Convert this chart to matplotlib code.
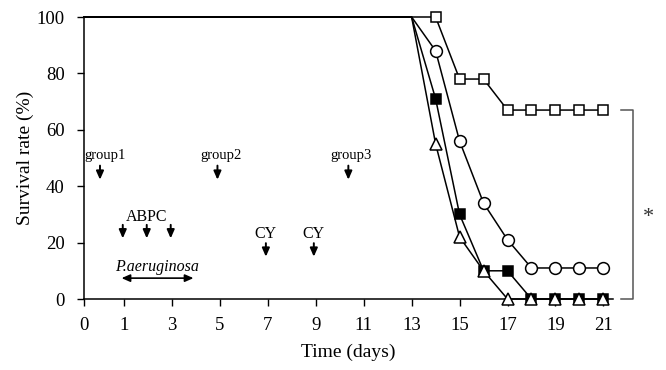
import matplotlib
matplotlib.use("Agg")
import matplotlib.pyplot as plt

plt.rcParams['font.family'] = ['Liberation Serif', 'DejaVu Serif']

# Data
days_tail = [13, 14, 15, 16, 17, 18, 19, 20, 21]
open_square = [100, 100, 78, 78, 67, 67, 67, 67, 67]
open_circle = [100, 88, 56, 34, 21, 11, 11, 11, 11]
filled_square = [100, 71, 30, 10, 10, 0, 0, 0, 0]
open_triangle = [100, 55, 22, 10, 0, 0, 0, 0, 0]

x_ticks = [1, 3, 5, 7, 9, 11, 13, 15, 17, 19, 21]
x_tick_labels = ['1', '3', '5', '7', '9', '11', '13', '15', '17', '19', '21']
y_ticks = [0, 20, 40, 60, 80, 100]

group_days = [0, 4.9, 10.36]
group_labels = ['group1', 'group2', 'group3']
abpc_days = [1, 2, 3]
cy_days = [7, 9]
pa_range = [0.9, 3.9]

x_left = -0.667
x_right = 21.4

fig = plt.figure(figsize=(6.66, 3.70), dpi=100)
ax = fig.add_axes([84/666, 1-299/370, (613-84)/666, (299-17)/370])

def series(vals, marker, face, ms, z):
    xs = [x_left] + days_tail
    ys = [vals[0]] + vals
    ax.plot(xs, ys, color='black', lw=1.1, zorder=z, clip_on=False)
    ax.plot(days_tail[1:], vals[1:], linestyle='none', marker=marker,
            markerfacecolor=face, markeredgecolor='black', markeredgewidth=1.1,
            markersize=ms, zorder=z + 0.5, clip_on=False)

series(open_square, 's', 'white', 7.2, 3)
series(open_circle, 'o', 'white', 8.5, 3)
series(filled_square, 's', 'black', 7.0, 4)
series(open_triangle, '^', 'white', 8.0, 5)

ax.set_xlim(x_left, x_right)
ax.set_ylim(0, 100)
ax.set_xticks([x_left] + x_ticks)
ax.set_xticklabels(['0'] + x_tick_labels)
ax.set_yticks(y_ticks)
ax.tick_params(direction='out', length=5, width=1, labelsize=13.5, pad=8)
ax.tick_params(axis='y', pad=9)
for s in ['top', 'right']:
    ax.spines[s].set_visible(False)
for s in ['left', 'bottom']:
    ax.spines[s].set_linewidth(1.1)
ax.set_xlabel('Time (days)', fontsize=14, labelpad=7)
ax.set_ylabel('Survival rate (%)', fontsize=14, labelpad=2)

arrow_kw = dict(arrowstyle='-|>,head_length=0.5,head_width=0.22', color='black',
                lw=1.4, shrinkA=0, shrinkB=0, mutation_scale=10)

# group labels and arrows
for d, lab, dx in zip(group_days, group_labels, [0.2, 0.15, 0.1]):
    ax.text(d + dx, 51, lab, ha='center', va='center', fontsize=10.5)
    ax.annotate('', xy=(d, 42.3), xytext=(d, 47.3), arrowprops=arrow_kw)

ax.text(1.96, 29, 'ABPC', ha='center', va='center', fontsize=11.5)
for d in abpc_days:
    ax.annotate('', xy=(d - 0.05, 21.5), xytext=(d - 0.05, 26.3), arrowprops=arrow_kw)

for d in cy_days:
    ax.text(d - 0.08, 23, 'CY', ha='center', va='center', fontsize=11.5)
    ax.annotate('', xy=(d - 0.08, 15), xytext=(d - 0.08, 19.8), arrowprops=arrow_kw)

ax.text(2.36, 11.3, 'P.aeruginosa', ha='center', va='center', fontsize=11.5, style='italic')
ax.annotate('', xy=(pa_range[0], 7.4), xytext=(pa_range[1], 7.4),
            arrowprops=dict(arrowstyle='<|-|>,head_length=0.5,head_width=0.22', color='black',
                            lw=1.2, shrinkA=0, shrinkB=0))

# significance bracket
bx = 22.25
ax.plot([21.75, bx, bx, 21.75], [67, 67, 0, 0], color='#555555', lw=1.1, clip_on=False)
ax.text(22.9, 29, '*', ha='center', va='center', fontsize=16, color='#333333')

fig.savefig('out.png', dpi=100)
